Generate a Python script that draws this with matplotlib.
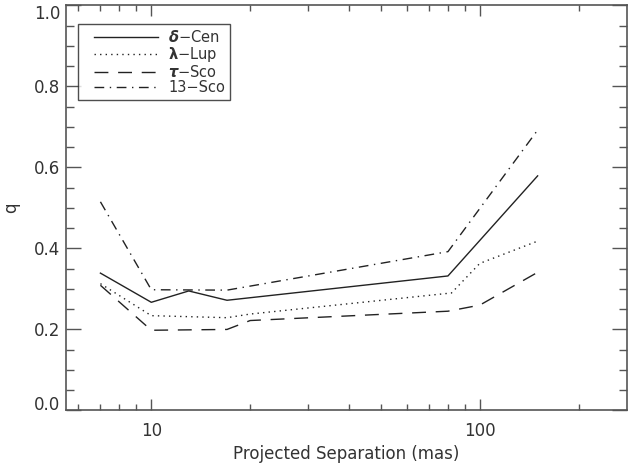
import matplotlib
matplotlib.use("Agg")
import matplotlib.pyplot as plt
from matplotlib.ticker import MultipleLocator, FixedLocator, NullFormatter
from matplotlib.legend_handler import HandlerLine2D

# Daten
sep_dcen = [7, 10, 13, 17, 80, 150]
q_dcen = [0.339, 0.267, 0.295, 0.272, 0.332, 0.579]

sep_llup = [7, 10, 17, 20, 82, 100, 150]
q_llup = [0.313, 0.234, 0.229, 0.238, 0.290, 0.363, 0.418]

sep_tsco = [7, 10, 17, 20, 80, 100, 150]
q_tsco = [0.309, 0.198, 0.200, 0.222, 0.245, 0.260, 0.341]

sep_13sco = [7, 10, 17, 80, 150]
q_13sco = [0.515, 0.298, 0.297, 0.392, 0.692]

labels = [r"$\boldsymbol{\delta}$−Cen", r"$\boldsymbol{\lambda}$−Lup",
          r"$\boldsymbol{\tau}$−Sco", "13−Sco"]

plt.rcParams["font.family"] = ["DejaVu Sans"]
plt.rcParams["mathtext.fontset"] = "dejavusans"

fig = plt.figure(figsize=(6.33, 4.68), dpi=100)
ax = fig.add_axes([0.1043, 0.1229, 0.8857, 0.8658])

lc = "#222222"
l1, = ax.plot(sep_dcen, q_dcen, color=lc, lw=1.0, ls="-", label=labels[0])
l2, = ax.plot(sep_llup, q_llup, color=lc, lw=1.0, ls=(0, (1, 3)), label=labels[1])
l3, = ax.plot(sep_tsco, q_tsco, color=lc, lw=1.0, ls=(0, (10, 7)), label=labels[2])
l4, = ax.plot(sep_13sco, q_13sco, color=lc, lw=1.0, ls=(0, (7, 4, 1, 4)), label=labels[3])

ax.set_xscale("log")
ax.set_xlim(5.5, 280)
ax.set_ylim(0, 1.0)

# Ticks im IDL-Stil
ax.xaxis.set_major_locator(FixedLocator([10, 100]))
ax.xaxis.set_minor_locator(FixedLocator([6, 7, 8, 9, 20, 30, 40, 50, 60, 70, 80, 90, 200]))
ax.xaxis.set_minor_formatter(NullFormatter())
ax.set_xticklabels(["10", "100"])
ax.set_yticks([0, 0.2, 0.4, 0.6, 0.8, 1.0])
ax.set_yticklabels(["0.0", "0.2", "0.4", "0.6", "0.8", "1.0"])
ax.yaxis.set_minor_locator(MultipleLocator(0.05))

ax.tick_params(axis="both", which="both", direction="in", top=True, right=True,
               color="#555555", width=1.0, labelsize=12, labelcolor="#333333")
ax.tick_params(axis="y", which="major", length=11, pad=4)
ax.tick_params(axis="y", which="minor", length=5.5)
ax.tick_params(axis="x", which="major", length=8, pad=8)
ax.tick_params(axis="x", which="minor", length=4)

# äußere Beschriftungen nach innen schieben (wie IDL)
ylabs = ax.get_yticklabels()
ylabs[0].set_verticalalignment("baseline")
ylabs[-1].set_verticalalignment("top")

for s in ax.spines.values():
    s.set_color("#555555")
    s.set_linewidth(1.2)

ax.set_xlabel("Projected Separation (mas)", fontsize=12, color="#333333", labelpad=4)
ax.set_ylabel("q", fontsize=12, color="#333333", labelpad=10)

# Legende: Linienmuster etwas nach rechts eingerückt
hmap = {h: HandlerLine2D(xpad=0.75) for h in (l1, l2, l3, l4)}
leg = ax.legend(loc="upper left", bbox_to_anchor=(0.022, 0.955), fontsize=10.5,
                frameon=True, fancybox=False, handlelength=5.1, handletextpad=0.7,
                borderpad=0.35, labelspacing=0.0, borderaxespad=0, handler_map=hmap)
leg.get_frame().set_edgecolor("#222222")
leg.get_frame().set_linewidth(1.0)
for t in leg.get_texts():
    t.set_color("#333333")

plt.savefig("out.png", dpi=100)
